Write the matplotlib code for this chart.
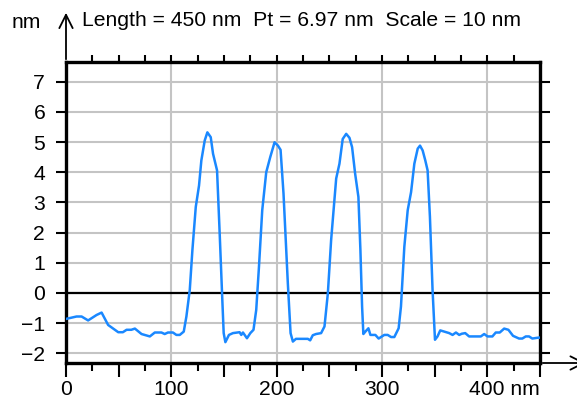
import numpy as np
import matplotlib
matplotlib.use("Agg")
import matplotlib.pyplot as plt
import matplotlib.transforms as mtrans

plt.rcParams['font.family'] = ['Liberation Sans', 'DejaVu Sans']

# profile (nm)
x_nm = [0, 10, 14.8, 21, 29, 33.8, 40, 49.6, 54, 57.5, 62, 65.4, 71.7, 79.6, 84.3,
        90.6, 93.7, 96.8, 101.5, 104.8, 108, 111.8, 114.3, 117.5, 120, 123.2, 126.3,
        128.5, 131.7, 134.2, 137.4, 139.6, 143.4, 145.9, 148.4, 149.7, 151.3, 154.7,
        158.5, 164.8, 166.4, 168, 171.8, 175, 178, 180.6, 183.2, 186.3, 190.1, 193.9,
        198, 201.2, 203.7, 206.5, 210.6, 213.2, 215.4, 218.3, 229.6, 231.8, 234.3,
        237.4, 242.2, 245.4, 248.6, 251.7, 256.5, 259.6, 262.7, 266, 269.1, 271.6,
        274.5, 277.6, 279.5, 281.1, 282.3, 284.2, 287.1, 289, 293.7, 296.8, 302.2,
        305.4, 308.6, 311.7, 315.8, 318, 321.2, 324.4, 327.6, 330.7, 333.9, 336.1,
        338.6, 341.1, 343.3, 345.5, 348, 350.3, 352.7, 355.3, 359.1, 363.8, 367,
        370.2, 373.3, 375.8, 379, 382.7, 393.8, 397, 400.2, 404.8, 408, 411.8, 416,
        420, 424.4, 430.1, 433.2, 436.5, 439.6, 442.7, 448.4, 450]
height = [-0.86, -0.78, -0.78, -0.91, -0.73, -0.65, -1.06, -1.30, -1.30, -1.22, -1.22,
          -1.18, -1.36, -1.44, -1.31, -1.31, -1.36, -1.31, -1.31, -1.39, -1.39, -1.28,
          -0.78, 0.10, 1.42, 2.85, 3.56, 4.39, 5.05, 5.32, 5.16, 4.61, 4.06, 1.97,
          -0.23, -1.33, -1.63, -1.39, -1.33, -1.30, -1.39, -1.31, -1.50, -1.33, -1.22,
          -0.56, 0.87, 2.74, 4.00, 4.50, 4.99, 4.88, 4.74, 3.29, 0.32, -1.33, -1.61,
          -1.52, -1.52, -1.57, -1.40, -1.36, -1.33, -1.11, -0.01, 1.75, 3.79, 4.28,
          5.10, 5.27, 5.14, 4.83, 3.95, 3.18, 1.42, -0.45, -1.36, -1.28, -1.17, -1.39,
          -1.39, -1.51, -1.39, -1.39, -1.46, -1.46, -1.17, -0.45, 1.53, 2.74, 3.34,
          4.28, 4.78, 4.88, 4.72, 4.39, 4.06, 2.52, 0.10, -1.55, -1.44, -1.24, -1.28,
          -1.33, -1.39, -1.31, -1.39, -1.35, -1.33, -1.44, -1.44, -1.36, -1.44, -1.44,
          -1.31, -1.31, -1.18, -1.22, -1.42, -1.51, -1.51, -1.44, -1.44, -1.51, -1.48,
          -1.48]

x_ticks = [0, 100, 200, 300, 400]
x_labels = ['0', '100', '200', '300', '400 nm']
y_ticks = [-2, -1, 0, 1, 2, 3, 4, 5, 6, 7]

FS = 15.2
W, H = 577, 399
fig = plt.figure(figsize=(W / 100, H / 100), dpi=100)
L, R, B, T = 66, 540, 363, 62
ax = fig.add_axes([L / W, (H - B) / H, (R - L) / W, (B - T) / H])

ax.set_xlim(0, 450)
ax.set_ylim(-2.32, 7.65)

for v in x_ticks[1:]:
    ax.axvline(v, color='#c4c4c4', lw=1.5, zorder=1)
for v in y_ticks:
    ax.axhline(v, color='#c4c4c4', lw=1.5, zorder=1)
ax.axhline(0, color='black', lw=1.6, zorder=2)

ax.plot(x_nm, height, color='#1a88ff', lw=1.8, zorder=3)

for s in ax.spines.values():
    s.set_linewidth(2.4)

ax.set_xticks(np.arange(0, 451, 50))
ax.set_xticklabels([x_labels[x_ticks.index(v)] if v in x_ticks else ''
                    for v in range(0, 451, 50)])
ax.set_xticks(np.arange(25, 450, 50), minor=True)
ax.tick_params(axis='x', which='major', direction='out', length=10, width=1.5,
               labelsize=FS, pad=2)
ax.tick_params(axis='x', which='minor', direction='out', length=6, width=1.5)
ax.set_yticks(y_ticks)
ax.tick_params(axis='y', which='major', direction='out', length=7, width=1.5,
               labelsize=FS, pad=8, right=True)

# keep "400" of the last label centred on its tick
lab400 = [l for l in ax.get_xticklabels() if l.get_text() == '400 nm'][0]
lab400.set_horizontalalignment('left')
lab400.set_transform(lab400.get_transform()
                     + mtrans.ScaledTranslation(-0.18, 0, fig.dpi_scale_trans))

top = ax.secondary_xaxis('top')
top.set_xticks(np.arange(25, 450, 25))
top.set_xticklabels([])
top.tick_params(direction='out', length=5, width=1.5)
top.spines['top'].set_visible(False)

# y axis arrow and x axis extension
ax.annotate('', xy=(L / W, 1 - 10 / H), xytext=(L / W, 1 - T / H),
            xycoords='figure fraction',
            arrowprops=dict(arrowstyle='->', lw=1.3, color='black',
                            mutation_scale=24))
ax.annotate('', xy=(1.02, (H - B) / H), xytext=(R / W, (H - B) / H),
            xycoords='figure fraction',
            arrowprops=dict(arrowstyle='->', lw=1.3, color='black',
                            mutation_scale=24))

fig.text(82 / W, 1 - 20 / H, 'Length = 450 nm  Pt = 6.97 nm  Scale = 10 nm',
         fontsize=FS, ha='left', va='center')
fig.text(12 / W, 1 - 23 / H, 'nm', fontsize=FS, ha='left', va='center')

fig.savefig('out.png', dpi=100)
